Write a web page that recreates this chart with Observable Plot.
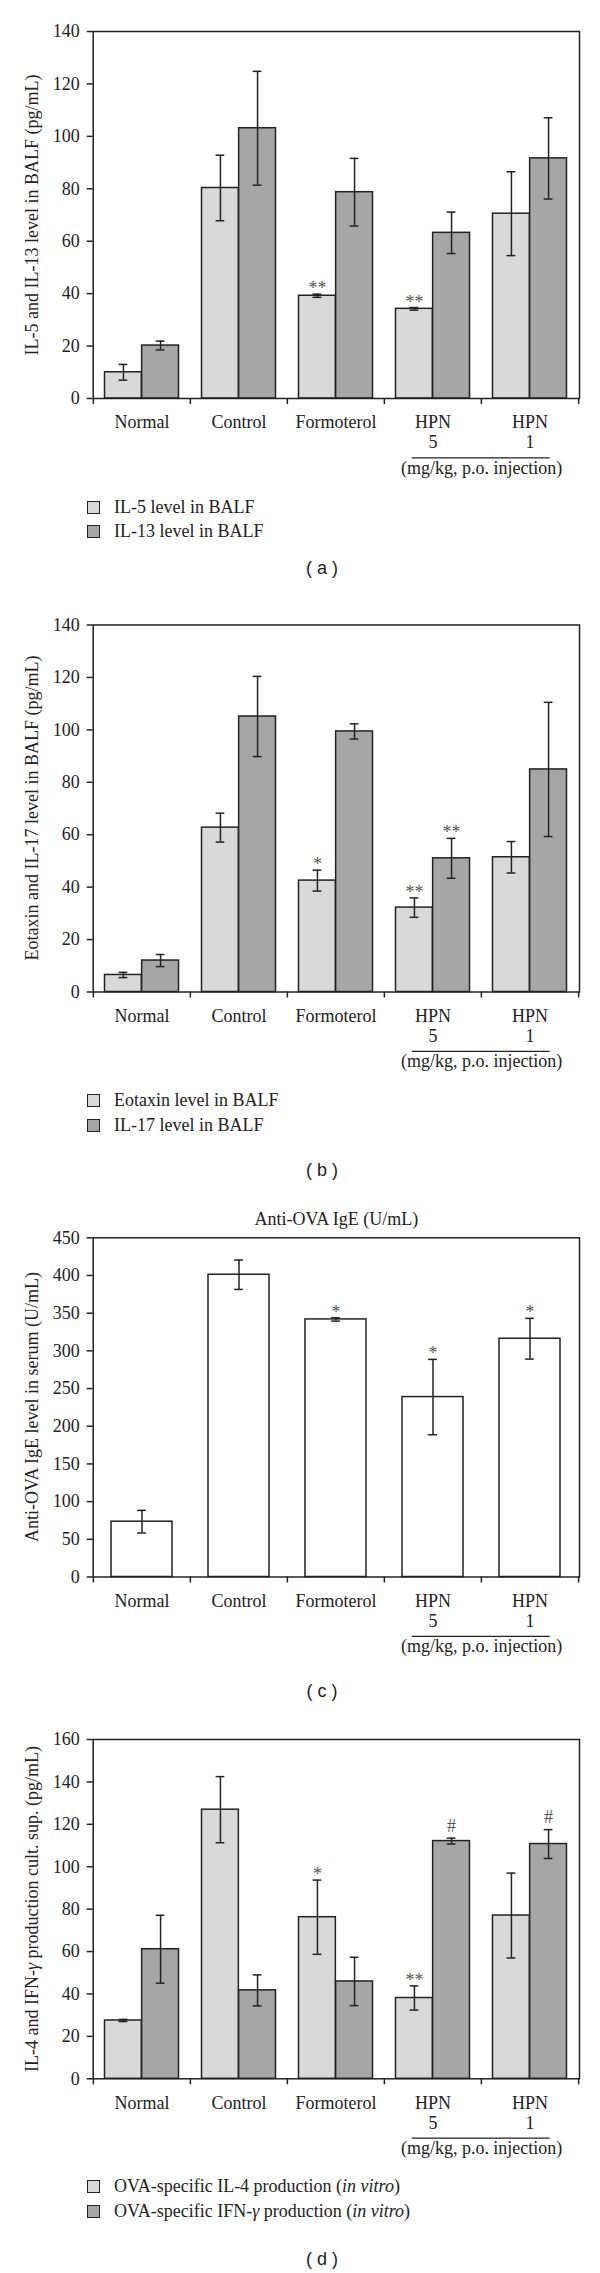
<!DOCTYPE html>
<html><head><meta charset="utf-8">
<script src="https://cdn.jsdelivr.net/npm/d3@7"></script>
<script src="https://cdn.jsdelivr.net/npm/@observablehq/plot@0.6"></script>
<style>
body{margin:0;background:#fff;}
#page{position:relative;width:600px;height:2273px;font-family:"Liberation Serif","Times New Roman",serif;color:#222;overflow:hidden;}
.panel{position:absolute;left:0;}
.row{position:absolute;left:87px;white-space:nowrap;height:24px;display:flex;align-items:center;font-size:18px;}
.sw{width:11px;height:11px;border:1.6px solid #222;margin-right:14px;flex:none;}
.cap{position:absolute;font-family:"Liberation Sans",Arial,sans-serif;font-size:18px;transform:translate(-50%,-50%);white-space:pre;}
.ylab{position:absolute;font-size:18px;white-space:nowrap;transform:translate(-50%,-50%) rotate(-90deg);line-height:1;}
</style>
</head><body><div id="page"></div>
<script>
// ---------- data ----------
const categories = ["Normal", "Control", "Formoterol", "HPN 5", "HPN 1"];
const categoryLabels = ["Normal", "Control", "Formoterol", "HPN\n5", "HPN\n1"];
const doseNote = "(mg/kg, p.o. injection)";

// panel (a)
const aNames = ["IL-5 level in BALF", "IL-13 level in BALF"];
const aIL5 = [10, 80.3, 39.2, 34.2, 70.5];
const aIL5Err = [3, 12.5, 0.6, 0.5, 16];
const aIL5Sig = ["", "", "**", "**", ""];
const aIL13 = [20.2, 103.1, 78.7, 63.2, 91.6];
const aIL13Err = [1.7, 21.7, 12.9, 7.9, 15.5];
const aIL13Sig = ["", "", "", "", ""];
const aTicks = [0, 20, 40, 60, 80, 100, 120, 140];
const aYLabel = "IL-5 and IL-13 level in BALF (pg/mL)";

// panel (b)
const bNames = ["Eotaxin level in BALF", "IL-17 level in BALF"];
const bEot = [6.5, 62.7, 42.5, 32.2, 51.4];
const bEotErr = [1.0, 5.5, 4.0, 3.7, 6.0];
const bEotSig = ["", "", "*", "**", ""];
const bIL17 = [12.0, 105.1, 99.4, 51.0, 84.9];
const bIL17Err = [2.3, 15.3, 2.9, 7.6, 25.6];
const bIL17Sig = ["", "", "", "**", ""];
const bTicks = [0, 20, 40, 60, 80, 100, 120, 140];
const bYLabel = "Eotaxin and IL-17 level in BALF (pg/mL)";

// panel (c)
const cTitle = "Anti-OVA IgE (U/mL)";
const cIgE = [73.4, 401, 341.7, 238.7, 316.1];
const cIgEErr = [15, 19.5, 2.2, 50, 27];
const cIgESig = ["", "", "*", "*", "*"];
const cTicks = [0, 50, 100, 150, 200, 250, 300, 350, 400, 450];
const cYLabel = "Anti-OVA IgE level in serum (U/mL)";

// panel (d)
const dIL4 = [27.5, 126.9, 76.2, 38.1, 77.0];
const dIL4Err = [0.5, 15.6, 17.5, 5.7, 20];
const dIL4Sig = ["", "", "*", "**", ""];
const dIFN = [61.1, 41.7, 45.9, 112.1, 110.7];
const dIFNErr = [16, 7.3, 11.4, 1.4, 6.8];
const dIFNSig = ["", "", "", "#", "#"];
const dTicks = [0, 20, 40, 60, 80, 100, 120, 140, 160];
const dYLabel = "IL-4 and IFN-<i>γ</i> production cult. sup. (pg/mL)";

const captions = ["( a )", "( b )", "( c )", "( d )"];

// ---------- styling ----------
const LIGHT = "#d9d9d9", DARK = "#a6a6a6", INK = "#222";
const W = 600, ML = 92.7, MR = 21;
const BW = (W - ML - MR) / categories.length;
const page = document.getElementById("page");

function panel(cfg) {
  const {series, yMax, yTicks, yLabel, marginTop, plotHeight, marginBottom = 95, title, top} = cfg;
  const two = series.length === 2;
  const marks = [];
  series.forEach((s, si) => {
    const data = categories.map((c, i) => ({cat: c, v: s.values[i], e: s.errors[i], m: s.sig[i]}));
    const inL = two ? (si === 0 ? 11.5 : BW / 2) : 18;
    const inR = two ? (si === 0 ? BW / 2 : 11.5) : 18;
    const off = (inL - inR) / 2;
    const capIn = BW / 2 - 4.5;
    marks.push(
      Plot.barY(data, {x: "cat", y: "v", fill: s.fill, stroke: INK, strokeWidth: 1.5, insetLeft: inL, insetRight: inR}),
      Plot.ruleX(data, {x: "cat", y1: d => d.v - d.e, y2: d => d.v + d.e, dx: off, stroke: INK, strokeWidth: 1.5}),
      Plot.tickY(data, {x: "cat", y: d => d.v + d.e, dx: off, insetLeft: capIn, insetRight: capIn, stroke: INK, strokeWidth: 1.5}),
      Plot.tickY(data, {x: "cat", y: d => d.v - d.e, dx: off, insetLeft: capIn, insetRight: capIn, stroke: INK, strokeWidth: 1.5}),
      Plot.text(data.filter(d => d.m && d.m.includes("*")), {x: "cat", y: d => d.v + d.e, text: "m", dx: off, dy: 0, lineAnchor: "bottom", fill: "#555"}),
      Plot.text(data.filter(d => d.m && d.m.includes("#")), {x: "cat", y: d => d.v + d.e, text: "m", dx: off, dy: -6.5, lineAnchor: "bottom", fill: "#555"})
    );
  });
  marks.push(
    Plot.axisY({ticks: yTicks, tickSize: 6, tickPadding: 7.5, label: null, stroke: INK, strokeWidth: 1.5}),
    Plot.ruleX(categories, {x: d => d, dx: -BW / 2, y1: () => 0, y2: () => 0, insetBottom: -6, stroke: INK, strokeWidth: 1.5}),
    Plot.ruleX([categories[categories.length - 1]], {x: d => d, dx: BW / 2, y1: () => 0, y2: () => 0, insetBottom: -6, stroke: INK, strokeWidth: 1.5}),
    Plot.text(categories, {x: d => d, text: (d, i) => categoryLabels[i], frameAnchor: "bottom", lineAnchor: "top", dy: 15.7, lineHeight: 1.11, fill: INK}),
    Plot.ruleY([{a: "HPN 5", b: "HPN 1"}], {x1: "a", x2: "b", y: () => 0, dy: 59.3, insetLeft: 27.8, insetRight: 28.3, stroke: INK, strokeWidth: 1.2}),
    Plot.text([doseNote], {x: () => "HPN 5", text: d => d, dx: BW / 2, frameAnchor: "bottom", dy: 75.3, lineAnchor: "bottom", fill: INK}),
    Plot.frame({stroke: INK, strokeWidth: 1.5})
  );
  if (title) marks.push(Plot.text([title], {text: d => d, frameAnchor: "top", dy: -18.8, lineAnchor: "middle", fill: INK}));
  const svg = Plot.plot({
    width: W,
    height: marginTop + plotHeight + marginBottom,
    marginTop, marginBottom, marginLeft: ML, marginRight: MR,
    x: {domain: categories, padding: 0, axis: null},
    y: {domain: [0, yMax], axis: null},
    style: {fontFamily: '"Liberation Serif","Times New Roman",serif', fontSize: "18px", color: INK, background: "transparent", overflow: "visible"},
    marks
  });
  const wrap = document.createElement("div");
  wrap.className = "panel";
  wrap.style.top = top + "px";
  wrap.appendChild(svg);
  page.appendChild(wrap);
  // rotated y-axis title, centred on the plot frame
  const yl = document.createElement("div");
  yl.className = "ylab";
  yl.style.left = "32px";
  yl.style.top = (top + marginTop + plotHeight / 2) + "px";
  yl.innerHTML = yLabel;
  page.appendChild(yl);
}

function legend(items, centers) {
  items.forEach((it, i) => {
    const r = document.createElement("div");
    r.className = "row";
    r.style.top = (centers[i] - 12) + "px";
    r.innerHTML = `<span class="sw" style="background:${it.fill}"></span><span>${it.html}</span>`;
    page.appendChild(r);
  });
}
function caption(text, x, y) {
  const c = document.createElement("div");
  c.className = "cap";
  c.style.left = x + "px";
  c.style.top = y + "px";
  c.textContent = text;
  page.appendChild(c);
}

// (a)
panel({top: 0, marginTop: 31, plotHeight: 367, yMax: 140, yTicks: aTicks, yLabel: aYLabel, series: [
  {values: aIL5, errors: aIL5Err, sig: aIL5Sig, fill: LIGHT},
  {values: aIL13, errors: aIL13Err, sig: aIL13Sig, fill: DARK}]});
legend([{fill: LIGHT, html: aNames[0]}, {fill: DARK, html: aNames[1]}], [507.7, 531.7]);
caption(captions[0], 322, 567.5);

// (b)
panel({top: 600, marginTop: 24.5, plotHeight: 367, yMax: 140, yTicks: bTicks, yLabel: bYLabel, series: [
  {values: bEot, errors: bEotErr, sig: bEotSig, fill: LIGHT},
  {values: bIL17, errors: bIL17Err, sig: bIL17Sig, fill: DARK}]});
legend([{fill: LIGHT, html: bNames[0]}, {fill: DARK, html: bNames[1]}], [1100.7, 1125.7]);
caption(captions[1], 322, 1170.2);

// (c)
panel({top: 1180, marginTop: 57.3, plotHeight: 339.2, yMax: 450, yTicks: cTicks, yLabel: cYLabel, title: cTitle, series: [
  {values: cIgE, errors: cIgEErr, sig: cIgESig, fill: "#ffffff"}]});
caption(captions[2], 322, 1691.4);

// (d)
panel({top: 1700, marginTop: 39, plotHeight: 339.3, yMax: 160, yTicks: dTicks, yLabel: dYLabel, series: [
  {values: dIL4, errors: dIL4Err, sig: dIL4Sig, fill: LIGHT},
  {values: dIFN, errors: dIFNErr, sig: dIFNSig, fill: DARK}]});
legend([
  {fill: LIGHT, html: "OVA-specific IL-4 production (<i>in vitro</i>)"},
  {fill: DARK, html: "OVA-specific IFN-<i>γ</i> production (<i>in vitro</i>)"}], [2186.7, 2211.7]);
caption(captions[3], 322, 2258.5);
</script>
</body></html>
